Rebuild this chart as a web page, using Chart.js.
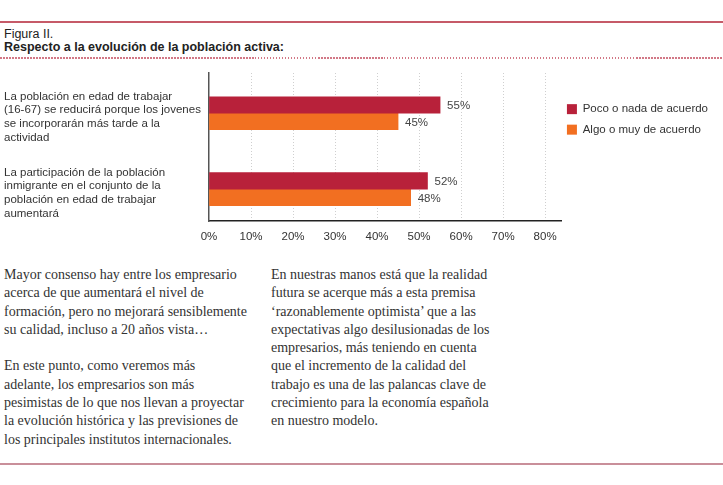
<!DOCTYPE html>
<html>
<head>
<meta charset="utf-8">
<script src="https://cdn.jsdelivr.net/npm/chart.js@4.4.0/dist/chart.umd.min.js"></script>
<style>
  body { margin: 0; width: 723px; height: 485px; position: relative; overflow: hidden; background: #fff;
         font-family: "Liberation Sans", Arial, sans-serif; color: #222; }
  .rule { position: absolute; left: 0; width: 723px; }
  #topRule { top: 21px; height: 2px; background: #c65a68; }
  #dotRule { top: 57px; height: 1.5px;
             background: repeating-linear-gradient(90deg, #d27886 0 1.5px, transparent 1.5px 3px); }
  #bottomRule { top: 463px; height: 2px; background: #c98f9a; }
  .fig { position: absolute; left: 4px; font-size: 12.5px; line-height: 14px; }
  #figNum { top: 27px; }
  #figTitle { top: 40px; font-weight: bold; }
  #chartBox { position: absolute; left: 0; top: 60px; }
  .col { position: absolute; top: 266px; font-family: "Liberation Serif", "Times New Roman", serif;
         font-size: 14px; line-height: 18.3px; color: #333; white-space: nowrap; }
  #col1 { left: 4px; }
  #col2 { left: 271px; }
</style>
</head>
<body>
<div class="rule" id="topRule"></div>
<div class="fig" id="figNum">Figura II.</div>
<div class="fig" id="figTitle">Respecto a la evolución de la población activa:</div>
<div class="rule" id="dotRule"></div>

<div id="chartBox"><canvas id="chart" width="723" height="195"></canvas></div>

<div class="col" id="col1">
Mayor consenso hay entre los empresario<br>
acerca de que aumentará el nivel de<br>
formación, pero no mejorará sensiblemente<br>
su calidad, incluso a 20 años vista…<br>
<br>
En este punto, como veremos más<br>
adelante, los empresarios son más<br>
pesimistas de lo que nos llevan a proyectar<br>
la evolución histórica y las previsiones de<br>
los principales institutos internacionales.
</div>
<div class="col" id="col2">
En nuestras manos está que la realidad<br>
futura se acerque más a esta premisa<br>
‘razonablemente optimista’ que a las<br>
expectativas algo desilusionadas de los<br>
empresarios, más teniendo en cuenta<br>
que el incremento de la calidad del<br>
trabajo es una de las palancas clave de<br>
crecimiento para la economía española<br>
en nuestro modelo.
</div>
<div class="rule" id="bottomRule"></div>

<script>
// chart data
const categories = [
  ['La población en edad de trabajar', '(16-67) se reducirá porque los jovenes', 'se incorporarán más tarde a la', 'actividad'],
  ['La participación de la población', 'inmigrante en el conjunto de la', 'población en edad de trabajar', 'aumentará']
];
const seriesNames = ['Poco o nada de acuerdo', 'Algo o muy de acuerdo'];
const pocoValues = [55, 52];
const algoValues = [45, 48];
const xTickValues = [0, 10, 20, 30, 40, 50, 60, 70, 80];

const red = '#b8213a';
const orange = '#f26f21';
const sans = '"Liberation Sans", Arial, sans-serif';

// value labels to the right of each bar
const barLabels = {
  id: 'barLabels',
  afterDatasetsDraw(chart) {
    const ctx = chart.ctx;
    ctx.save();
    ctx.font = '11.5px ' + sans;
    ctx.fillStyle = '#444';
    ctx.textBaseline = 'middle';
    ctx.textAlign = 'left';
    chart.data.datasets.forEach((ds, i) => {
      chart.getDatasetMeta(i).data.forEach((bar, j) => {
        ctx.fillText(ds.data[j] + '%', bar.x + 7, bar.y + 1);
      });
    });
    ctx.restore();
  }
};

// nudge the legend a little closer to the plot
const legendShift = {
  id: 'legendShift',
  afterLayout(chart) {
    if (chart.legend) {
      chart.legend.left -= 4;
      chart.legend.right -= 4;
    }
  }
};

new Chart(document.getElementById('chart'), {
  type: 'bar',
  data: {
    labels: categories,
    datasets: [
      { label: seriesNames[0], data: pocoValues, backgroundColor: red, barThickness: 16.5 },
      { label: seriesNames[1], data: algoValues, backgroundColor: orange, barThickness: 16.5 }
    ]
  },
  options: {
    indexAxis: 'y',
    responsive: false,
    animation: false,
    layout: { padding: { left: 4, top: 13, right: 1, bottom: 0 } },
    scales: {
      x: {
        min: 0,
        max: 84,
        afterBuildTicks: axis => { axis.ticks = xTickValues.map(v => ({ value: v })); },
        afterFit: axis => { axis.height = 34; },
        ticks: {
          callback: v => v + '%',
          padding: 9,
          color: '#333',
          font: { size: 11.5, family: sans }
        },
        grid: {
          drawTicks: false,
          color: c => (c.tick && c.tick.value === 0) ? 'rgba(0,0,0,0)' : '#cfcfcf',
          lineWidth: 1
        },
        border: { color: '#222', width: 1.5, dash: [1, 2] }
      },
      y: {
        // categories sit a bit lower than the plain half-step offset
        afterBuildTicks: axis => {
          axis._startValue = -0.53;
          axis._valueRange = 1.95;
        },
        afterFit: axis => {
          axis.width = 205;
          axis.paddingTop = 0;
          axis.paddingBottom = 0;
        },
        ticks: {
          crossAlign: 'far',
          labelOffset: 4,
          color: '#333',
          font: { size: 11.5, family: sans }
        },
        grid: { display: false },
        border: { color: '#555', width: 1.5 }
      }
    },
    plugins: {
      tooltip: { enabled: false },
      legend: {
        position: 'right',
        align: 'start',
        title: { display: true, text: '', padding: { top: 7, bottom: 0 } },
        labels: {
          boxWidth: 10,
          boxHeight: 10,
          padding: 9,
          color: '#333',
          font: { size: 11.5, family: sans }
        }
      }
    }
  },
  plugins: [barLabels, legendShift]
});
</script>
</body>
</html>
